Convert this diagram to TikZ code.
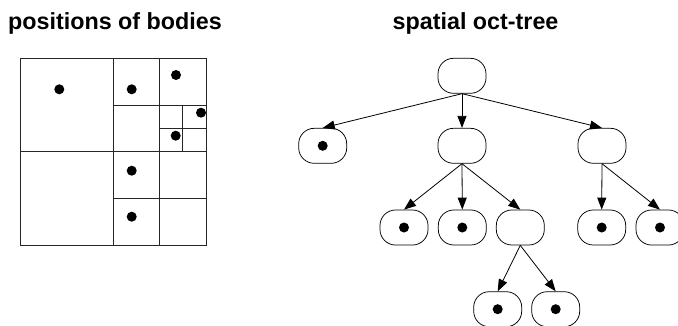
\documentclass[tikz,border=0pt]{standalone}
\usepackage{fontspec}
\setmainfont{Liberation Sans}
\usetikzlibrary{arrows.meta}
\begin{document}
\begin{tikzpicture}[x=1pt,y=-1pt,
  title/.style={anchor=base west,inner sep=0pt,font=\fontsize{23.3}{27}\selectfont\bfseries},
  grid/.style={line width=0.9pt,draw=black!85},
  body/.style={fill=black},
  cell/.style={draw,line width=0.75pt,rounded corners=15.5pt,minimum width=48pt,minimum height=35pt,inner sep=0pt},
  leaf/.style={cell,path picture={\fill (path picture bounding box.center) circle (5pt);}},
  link/.style={-{Triangle[length=12pt,width=9pt]},line width=0.8pt}]
\useasboundingbox (0,0) rectangle (678,325);
\clip (0,0) rectangle (678,325);
% titles
\node[title] (t1) at (8,29.3) {positions of bodies};
\node[title] (t2) at (392.5,29.3) {spatial oct-tree};
% quadrant grid
\draw[grid] (20,58.3) rectangle (206,245.7);
\draw[grid] (113.3,58.3) -- (113.3,245.7);
\draw[grid] (20,151.7) -- (206,151.7);
\draw[grid] (159.3,58.3) -- (159.3,245.7);
\draw[grid] (113.3,105.3) -- (206,105.3);
\draw[grid] (113.3,198.7) -- (206,198.7);
\draw[grid] (182.7,105.3) -- (182.7,151.7);
\draw[grid] (159.3,128.3) -- (206,128.3);
% bodies
\fill[body] (59.3,89.3) circle (5);
\fill[body] (131.7,89.3) circle (5);
\fill[body] (176,75) circle (5);
\fill[body] (201,112.7) circle (5);
\fill[body] (175.7,135.7) circle (5);
\fill[body] (131.7,170.7) circle (5);
\fill[body] (131.7,216.7) circle (5);
% tree
\node[cell] (r) at (462,75.8) {};
\node[leaf] (a) at (322.7,145.8) {};
\node[cell] (b) at (462,145.8) {};
\node[cell] (c) at (602,145.8) {};
\node[leaf] (b1) at (404,227.5) {};
\node[leaf] (b2) at (462.3,227.5) {};
\node[cell] (b3) at (520.3,227.5) {};
\node[leaf] (c1) at (601.7,227.5) {};
\node[leaf] (c2) at (660,227.5) {};
\node[leaf] (d1) at (497.7,309.2) {};
\node[leaf] (d2) at (555.7,309.2) {};
\draw[link] (r.south) -- (a.north);
\draw[link] (r.south) -- (b.north);
\draw[link] (r.south) -- (c.north);
\draw[link] (b.south) -- (b1.north);
\draw[link] (b.south) -- (b2.north);
\draw[link] (b.south) -- (b3.north);
\draw[link] (c.south) -- (c1.north);
\draw[link] (c.south) -- (c2.north);
\draw[link] (b3.south) -- (d1.north);
\draw[link] (b3.south) -- (d2.north);
\end{tikzpicture}
\end{document}
